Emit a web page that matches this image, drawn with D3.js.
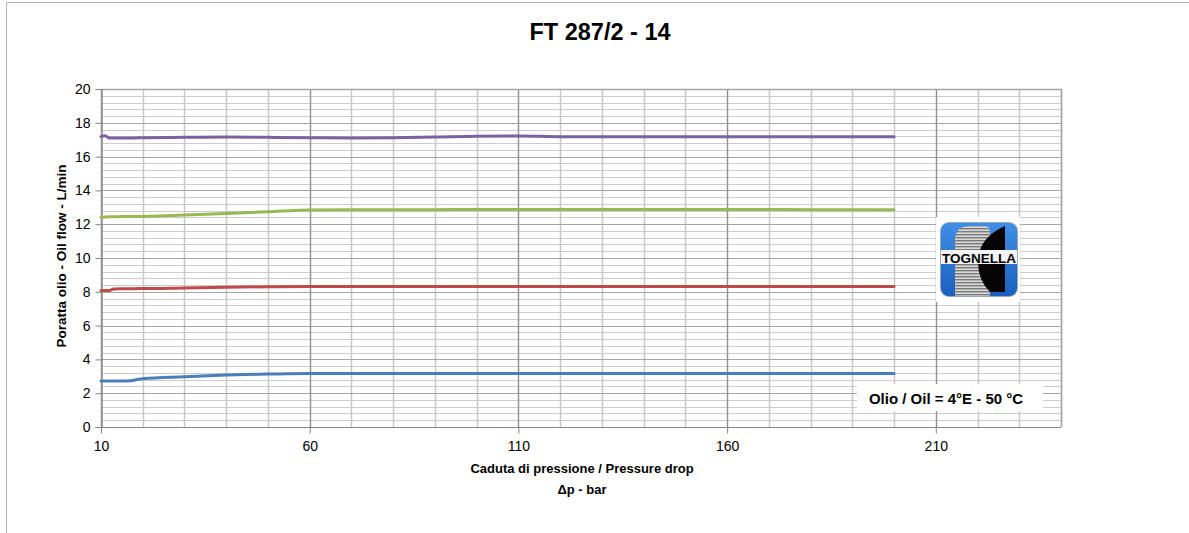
<!DOCTYPE html>
<html>
<head>
<meta charset="utf-8">
<script src="https://cdn.jsdelivr.net/npm/d3@7"></script>
<style>
  html, body { margin: 0; padding: 0; background: #fff; }
  svg { display: block; font-family: "Liberation Sans", Arial, sans-serif; }
</style>
</head>
<body>
<svg id="chart" width="1189" height="533"></svg>
<script>
// ---- data ----
const title = "FT 287/2 - 14";
const xValues = [10, 11, 12, 13, 15, 17, 19, 20, 30, 40, 50, 60, 70, 80, 90, 100, 110, 120, 140, 160, 180, 200];
const seriesBlue   = [2.72, 2.72, 2.72, 2.72, 2.72, 2.73, 2.82, 2.85, 2.97, 3.07, 3.13, 3.17, 3.17, 3.17, 3.17, 3.17, 3.17, 3.17, 3.17, 3.17, 3.17, 3.17];
const seriesRed    = [8.07, 8.07, 8.08, 8.16, 8.18, 8.18, 8.19, 8.19, 8.23, 8.27, 8.30, 8.32, 8.32, 8.32, 8.32, 8.32, 8.32, 8.32, 8.32, 8.32, 8.32, 8.32];
const seriesGreen  = [12.41, 12.43, 12.44, 12.44, 12.45, 12.45, 12.45, 12.46, 12.54, 12.64, 12.74, 12.84, 12.86, 12.86, 12.86, 12.87, 12.87, 12.87, 12.87, 12.87, 12.86, 12.85];
const seriesPurple = [17.18, 17.24, 17.1, 17.1, 17.1, 17.1, 17.11, 17.12, 17.14, 17.16, 17.14, 17.12, 17.1, 17.12, 17.16, 17.21, 17.22, 17.18, 17.17, 17.17, 17.17, 17.17];
const seriesColors = ["#4a7ebb", "#be4b48", "#98b954", "#7d60a0"];
const xTickLabels = [10, 60, 110, 160, 210];
const yTickLabels = [0, 2, 4, 6, 8, 10, 12, 14, 16, 18, 20];
const xTitle1 = "Caduta di pressione / Pressure drop";
const xTitle2 = "Δp - bar";
const yTitle = "Poratta olio - Oil flow - L/min";
const noteText = "Olio / Oil = 4°E - 50 °C";
const logoText = "TOGNELLA";

// ---- layout ----
const svg = d3.select("#chart");
const pLeft = 101, pRight = 1061, pTop = 89, pBottom = 427;
const x = d3.scaleLinear().domain([10, 240]).range([pLeft, pRight]);
const y = d3.scaleLinear().domain([0, 20]).range([pBottom, pTop]);

// outer chart border
svg.append("path").attr("d", "M6.5,540 V2.5 H1200")
  .attr("fill", "none").attr("stroke", "#b3b3b3").attr("stroke-width", 1);

// title
svg.append("text").attr("x", 600).attr("y", 40).attr("text-anchor", "middle")
  .attr("font-size", 23.5).attr("font-weight", "bold").attr("fill", "#000").text(title);

// grid
const g = svg.append("g");
const yMinor = d3.range(0, 20.001, 0.4);
const xMinor = d3.range(10, 240.001, 10);
g.selectAll(".hmin").data(yMinor).enter().append("line")
  .attr("x1", pLeft).attr("x2", pRight)
  .attr("y1", d => Math.round(y(d)) + 0.5).attr("y2", d => Math.round(y(d)) + 0.5)
  .attr("stroke", "#cccccc").attr("stroke-width", 1);
g.selectAll(".vmin").data(xMinor).enter().append("line")
  .attr("y1", pTop).attr("y2", pBottom)
  .attr("x1", d => Math.round(x(d)) + 0.5).attr("x2", d => Math.round(x(d)) + 0.5)
  .attr("stroke", "#c8c8c8").attr("stroke-width", 1.5);
g.selectAll(".hmaj").data(yTickLabels).enter().append("line")
  .attr("x1", pLeft).attr("x2", pRight)
  .attr("y1", d => Math.round(y(d)) + 0.5).attr("y2", d => Math.round(y(d)) + 0.5)
  .attr("stroke", "#a6a6a6").attr("stroke-width", 1.2);
g.selectAll(".vmaj").data(xTickLabels).enter().append("line")
  .attr("y1", pTop).attr("y2", pBottom)
  .attr("x1", d => Math.round(x(d)) + 0.5).attr("x2", d => Math.round(x(d)) + 0.5)
  .attr("stroke", "#909090").attr("stroke-width", 1.2);
// plot border (right/top)
g.append("path").attr("d", `M${pLeft},${pTop + 0.5} H${pRight + 0.5} V${pBottom}`)
  .attr("fill", "none").attr("stroke", "#a6a6a6").attr("stroke-width", 1.5);

// axes
const yAxis = d3.axisLeft(y).tickValues(yTickLabels).tickSize(6).tickPadding(5);
const yg = svg.append("g").attr("transform", `translate(${pLeft + 0.5},0)`).call(yAxis);
const xAxis = d3.axisBottom(x).tickValues(xTickLabels).tickSize(6).tickPadding(8);
const xg = svg.append("g").attr("transform", `translate(0,${pBottom + 0.5})`).call(xAxis);
[yg, xg].forEach(a => {
  a.select(".domain").attr("stroke", "#868686").attr("stroke-width", 1.2);
  a.selectAll(".tick line").attr("stroke", "#868686");
  a.selectAll(".tick text").attr("font-size", 14).attr("fill", "#000")
    .attr("font-family", "'Liberation Sans', Arial, sans-serif");
});
xg.select(".domain").attr("d", `M${pLeft},0H${pRight}`);

// series
const allSeries = [seriesBlue, seriesRed, seriesGreen, seriesPurple];
const line = d3.line().x((d, i) => x(xValues[i])).y(d => y(d)).curve(d3.curveMonotoneX);
allSeries.forEach((s, k) => {
  svg.append("path").datum(s).attr("d", line)
    .attr("fill", "none").attr("stroke", seriesColors[k]).attr("stroke-width", 3)
    .attr("stroke-linejoin", "round").attr("stroke-linecap", "round");
});

// axis titles
svg.append("text").attr("x", 582).attr("y", 473).attr("text-anchor", "middle")
  .attr("font-size", 13).attr("font-weight", "bold").text(xTitle1);
svg.append("text").attr("x", 582).attr("y", 494).attr("text-anchor", "middle")
  .attr("font-size", 13).attr("font-weight", "bold").text(xTitle2);
svg.append("text").attr("transform", "translate(66,256) rotate(-90)").attr("text-anchor", "middle")
  .attr("font-size", 13.5).attr("font-weight", "bold").text(yTitle);

// note box
svg.append("rect").attr("x", 857).attr("y", 384).attr("width", 186).attr("height", 27).attr("fill", "#fff");
svg.append("text").attr("x", 946).attr("y", 403.5).attr("text-anchor", "middle")
  .attr("font-size", 15).attr("font-weight", "bold").text(noteText);

// logo
const lg = svg.append("g");
lg.append("rect").attr("x", 936).attr("y", 217).attr("width", 84).attr("height", 85).attr("fill", "#fff");
const defs = svg.append("defs");
const pat = defs.append("pattern").attr("id", "stripes").attr("patternUnits", "userSpaceOnUse")
  .attr("width", 4).attr("height", 3);
pat.append("rect").attr("width", 4).attr("height", 3).attr("fill", "#d8d8d8");
pat.append("rect").attr("width", 4).attr("height", 1.4).attr("fill", "#7a7a7a");
const grad = defs.append("linearGradient").attr("id", "blueg").attr("x1", 0).attr("y1", 0).attr("x2", 0).attr("y2", 1);
grad.append("stop").attr("offset", "0%").attr("stop-color", "#3f8fe6");
grad.append("stop").attr("offset", "100%").attr("stop-color", "#1a5fc0");
defs.append("clipPath").attr("id", "logoclip").append("rect")
  .attr("x", 941).attr("y", 223).attr("width", 76).attr("height", 73).attr("rx", 8);
lg.append("rect").attr("x", 940).attr("y", 222).attr("width", 78).attr("height", 75).attr("rx", 9)
  .attr("fill", "#9aa7b8");
const inner = lg.append("g").attr("clip-path", "url(#logoclip)");
inner.append("rect").attr("x", 941).attr("y", 223).attr("width", 76).attr("height", 73).attr("fill", "url(#blueg)");
inner.append("path").attr("d", "M955,296 V240 Q955,226 970,226 H985 Q990,226 990,232 V296 Z")
  .attr("fill", "url(#stripes)");
inner.append("path").attr("d", "M1005,226 V292 H990 Q978,280 978,262 Q978,238 1005,226 Z")
  .attr("fill", "#050505");
inner.append("rect").attr("x", 941).attr("y", 250).attr("width", 76).attr("height", 14).attr("fill", "#f4f4f4");
lg.append("text").attr("x", 979).attr("y", 262.5).attr("text-anchor", "middle")
  .attr("font-size", 13).attr("font-weight", "bold").attr("fill", "#000")
  .attr("textLength", 74).attr("lengthAdjust", "spacingAndGlyphs").text(logoText);
</script>
</body>
</html>
